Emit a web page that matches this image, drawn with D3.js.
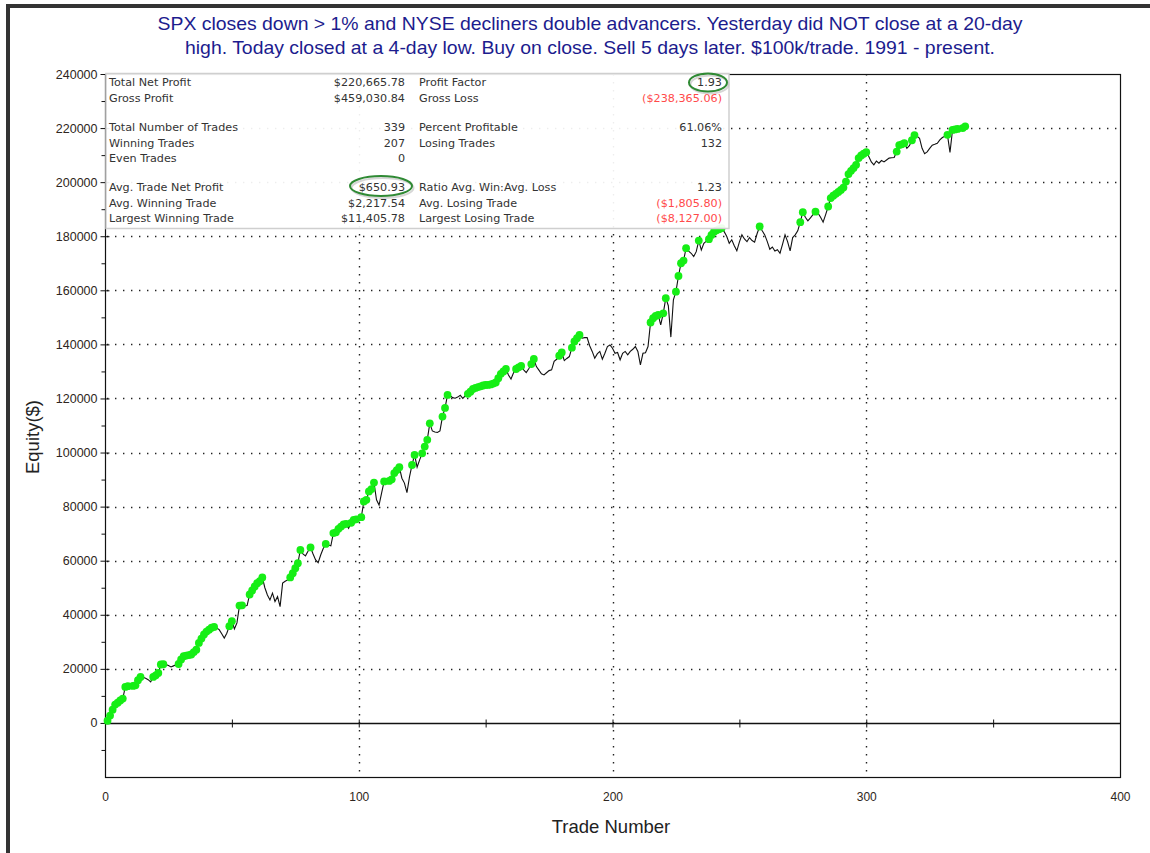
<!DOCTYPE html>
<html>
<head>
<meta charset="utf-8">
<script src="https://cdn.jsdelivr.net/npm/d3@7/dist/d3.min.js"></script>
<style>
  html, body { margin: 0; padding: 0; background: #fff; }
  svg { display: block; }
</style>
</head>
<body>
<svg id="chart" width="1150" height="853"></svg>
<script>
// ---------------- DATA ----------------
const titleLines = [
  "SPX closes down > 1% and NYSE decliners double advancers. Yesterday did NOT close at a 20-day",
  "high. Today closed at a 4-day low. Buy on close. Sell 5 days later. $100k/trade. 1991 - present."
];
const xLabel = "Trade Number";
const yLabel = "Equity($)";
const xTicks = [0, 100, 200, 300, 400];
const xMinorTicks = [0, 50, 100, 150, 200, 250, 300, 350, 400];
const yTicks = [0, 20000, 40000, 60000, 80000, 100000, 120000, 140000, 160000, 180000, 200000, 220000, 240000];
const yMinorTicks = [-10000, 10000, 30000, 50000, 70000, 90000, 110000, 130000, 150000, 170000, 190000, 210000, 230000];
const yGrid = [20000, 40000, 60000, 80000, 100000, 120000, 140000, 160000, 180000, 200000, 220000];
const xGrid = [100, 200, 300];

// equity after each trade (trade 1 .. 339)
const equity = [
  800, 2700, 4900, 6800, 7500, 8300, 9000, 13300, 13600, 13500,
  13700, 13900, 15800, 17000, 16900, 16500, 16000, 15200, 17000, 17600,
  18500, 21600, 21700, 21600, 21200, 20700, 21100, 21500, 21800, 23500,
  24700, 24900, 25100, 25300, 26200, 27100, 29600, 31200, 32700, 33800,
  34500, 35200, 35500, 35100, 34500, 33000, 31400, 33200, 35800, 37600,
  34800, 37000, 43400, 43500, 43300, 43400, 47500, 49000, 50500, 51700,
  52400, 53800, 50000, 47300, 45500, 48000, 44900, 46700, 43000, 51700,
  52400, 52900, 53800, 55400, 57200, 59100, 64000, 62500, 61800, 63500,
  64900, 62500, 60300, 59300, 62100, 64500, 66200, 65800, 65500, 70200,
  70500, 71800, 72600, 73400, 73600, 72000, 74000, 75100, 75300, 75000,
  76100, 81900, 82500, 85600, 86500, 88900, 82500, 80600, 85000, 89300,
  88700, 89500, 90100, 92400, 93500, 94600, 90500, 88700, 85200, 91000,
  95400, 99100, 94600, 97300, 99700, 102200, 104700, 110800, 108000, 107600,
  107400, 108000, 113300, 116500, 121300, 121100, 120300, 120100, 120500, 121200,
  120000, 121000, 121700, 122500, 123500, 123900, 124200, 124500, 124800, 125000,
  125000, 125200, 125500, 125900, 127500, 129100, 130000, 130900, 128700, 127200,
  129500, 130900, 131500, 132000, 130600, 129600, 131000, 132700, 134600, 131800,
  130500, 129100, 128700, 129500, 130300, 130600, 133700, 134500, 135800, 137000,
  134000, 134800, 135500, 138800, 141100, 142300, 143500, 142300, 142500, 142500,
  139500, 137400, 134900, 136500, 137400, 134500, 136700, 139200, 139800, 138600,
  136700, 137000, 134300, 136700, 137400, 136100, 137400, 138200, 139200, 137400,
  132400, 136700, 136900, 139200, 148100, 149700, 150500, 150900, 147200, 151500,
  157100, 154300, 142700, 156500, 159500, 165300, 170000, 171000, 175600, 174500,
  173700, 172500, 174300, 178400, 174900, 177400, 178200, 178900, 180500, 181700,
  182200, 182600, 183000, 181700, 180000, 177400, 178700, 176500, 174600, 177800,
  180500, 179000, 178000, 179500, 178400, 177800, 181000, 183600, 182000, 180500,
  178000, 175200, 176000, 174500, 175000, 173700, 177000, 180500, 178000, 174600,
  179500, 180500, 182000, 185200, 188900, 187000, 185700, 186800, 188000, 189100,
  188500, 187000, 185200, 188000, 191000, 194100, 195000, 195700, 196400, 197100,
  198000, 200200, 203000, 204200, 205200, 206400, 208900, 209900, 210500, 211100,
  209500, 207500, 206400, 207800, 207000, 208000, 207500, 208200, 208900, 209000,
  209100, 211300, 213700, 214000, 214400, 212500, 213500, 215500, 217400, 217000,
  216200, 212500, 210500, 211200, 212500, 213700, 214000, 214400, 215600, 216500,
  217000, 217500, 211000, 219300, 219500, 219700, 219600, 220000, 220666
];

// performance summary table
const statsLeftLabels  = ["Total Net Profit", "Gross Profit", "Total Number of Trades", "Winning Trades", "Even Trades", "Avg. Trade Net Profit", "Avg. Winning Trade", "Largest Winning Trade"];
const statsLeftValues  = ["$220,665.78", "$459,030.84", "339", "207", "0", "$650.93", "$2,217.54", "$11,405.78"];
const statsRightLabels = ["Profit Factor", "Gross Loss", "Percent Profitable", "Losing Trades", "", "Ratio Avg. Win:Avg. Loss", "Avg. Losing Trade", "Largest Losing Trade"];
const statsRightValues = ["1.93", "($238,365.06)", "61.06%", "132", "", "1.23", "($1,805.80)", "($8,127.00)"];
const statsRightNegative = [false, true, false, false, false, false, true, true];
const statsRowY = [86, 102, 131, 147, 162, 191, 207, 222];

// ---------------- CHART ----------------
const svg = d3.select("#chart");
const W = 1150, H = 853;
const plot = { left: 105, right: 1120, top: 74, bottom: 777 };

const x = d3.scaleLinear().domain([0, 400]).range([plot.left, plot.right]);
const y = d3.scaleLinear().domain([-20000, 240000]).range([plot.bottom, plot.top]);

svg.append("rect").attr("width", W).attr("height", H).attr("fill", "#fff");

// outer dark frame (top + left)
svg.append("rect").attr("x", 6).attr("y", 4).attr("width", W - 6).attr("height", 4).attr("fill", "#333");
svg.append("rect").attr("x", 6).attr("y", 4).attr("width", 4).attr("height", H - 4).attr("fill", "#333");

// title
const titleWidths = [865, 810];
svg.append("g").selectAll("text").data(titleLines).join("text")
  .attr("x", 590).attr("y", (d, i) => 30 + i * 24)
  .attr("text-anchor", "middle")
  .attr("font-family", "Liberation Sans, Arial, sans-serif")
  .attr("font-size", 18.5)
  .attr("textLength", (d, i) => titleWidths[i])
  .attr("lengthAdjust", "spacingAndGlyphs")
  .attr("fill", "#1c1c8e")
  .text(d => d);

// grid
const grid = svg.append("g").attr("stroke", "#222").attr("stroke-width", 1.4).attr("stroke-dasharray", "1.4 6.6");
grid.selectAll("line.h").data(yGrid).join("line").attr("class", "h")
  .attr("x1", plot.left + 2).attr("x2", plot.right)
  .attr("y1", d => Math.round(y(d)) + 0.5).attr("y2", d => Math.round(y(d)) + 0.5);
grid.selectAll("line.v").data(xGrid).join("line").attr("class", "v")
  .attr("y1", plot.top).attr("y2", plot.bottom)
  .attr("x1", d => Math.round(x(d)) + 0.5).attr("x2", d => Math.round(x(d)) + 0.5);

// frame
svg.append("rect").attr("x", plot.left + 0.5).attr("y", plot.top + 0.5)
  .attr("width", plot.right - plot.left).attr("height", plot.bottom - plot.top)
  .attr("fill", "none").attr("stroke", "#111").attr("stroke-width", 1.2);

// y axis
const yAxis = d3.axisLeft(y).tickValues(yTicks).tickSize(5).tickPadding(3).tickFormat(d3.format("d"));
const gy = svg.append("g").attr("transform", `translate(${plot.left + 0.5},0)`).call(yAxis);
gy.select(".domain").remove();
gy.selectAll(".tick line").attr("x1", 4).attr("x2", -5).attr("stroke", "#111");
gy.selectAll(".tick text").attr("font-family", "Liberation Sans, Arial, sans-serif").attr("font-size", 12.5).attr("fill", "#2e2620");
const gyMinor = d3.axisLeft(y).tickValues(yMinorTicks).tickSize(4).tickFormat("");
const gym = svg.append("g").attr("transform", `translate(${plot.left + 0.5},0)`).call(gyMinor);
gym.select(".domain").remove();
gym.selectAll(".tick line").attr("stroke", "#111");

// zero line with x ticks
svg.append("line").attr("x1", plot.left).attr("x2", plot.right)
  .attr("y1", Math.round(y(0)) + 0.5).attr("y2", Math.round(y(0)) + 0.5)
  .attr("stroke", "#111").attr("stroke-width", 1.4);
const xZeroAxis = d3.axisBottom(x).tickValues(xMinorTicks).tickSize(4).tickFormat("");
const gxz = svg.append("g").attr("transform", `translate(0,${Math.round(y(0)) + 0.5})`).call(xZeroAxis);
gxz.select(".domain").remove();
gxz.selectAll(".tick line").attr("y1", -4).attr("y2", 4).attr("stroke", "#111");

// x labels at bottom
const xAxis = d3.axisBottom(x).tickValues(xTicks).tickSize(0).tickPadding(15).tickFormat(d3.format("d"));
const gx = svg.append("g").attr("transform", `translate(0,${plot.bottom})`).call(xAxis);
gx.select(".domain").remove();
gx.selectAll(".tick text").attr("font-family", "Liberation Sans, Arial, sans-serif").attr("font-size", 12).attr("fill", "#2e2620");

// axis titles
svg.append("text").attr("x", 611).attr("y", 833).attr("text-anchor", "middle")
  .attr("font-family", "Liberation Sans, Arial, sans-serif").attr("font-size", 18.5).attr("fill", "#222")
  .text(xLabel);
svg.append("text").attr("transform", "translate(39,437) rotate(-90)").attr("text-anchor", "middle")
  .attr("font-family", "Liberation Sans, Arial, sans-serif").attr("font-size", 18.5).attr("fill", "#222")
  .text(yLabel);

// equity curve
const pts = equity.map((v, i) => ({ trade: i + 1, value: v }));
const line = d3.line().x(d => x(d.trade)).y(d => y(d.value));
svg.append("path").datum(pts).attr("d", line)
  .attr("fill", "none").attr("stroke", "#111").attr("stroke-width", 1.1);

// new equity highs
let runMax = -Infinity;
const highs = pts.filter(d => { if (d.value >= runMax) { runMax = d.value; return true; } return false; });
svg.append("g").selectAll("circle").data(highs).join("circle")
  .attr("cx", d => x(d.trade)).attr("cy", d => y(d.value)).attr("r", 3.9)
  .attr("fill", "#16ee16");

// stats box
const box = svg.append("g");
box.append("rect").attr("x", plot.left + 1).attr("y", 73.5).attr("width", 623).attr("height", 155)
  .attr("fill", "#fff").attr("fill-opacity", 0.92).attr("stroke", "#cfcfcf").attr("stroke-width", 1.5);
const sFont = "Tahoma, DejaVu Sans, Verdana, sans-serif";
const sSize = 11.2;
box.selectAll("text.ll").data(statsLeftLabels).join("text").attr("class", "ll")
  .attr("x", 109).attr("y", (d, i) => statsRowY[i])
  .attr("font-family", sFont).attr("font-size", sSize).attr("fill", "#333").text(d => d);
box.selectAll("text.lv").data(statsLeftValues).join("text").attr("class", "lv")
  .attr("x", 405).attr("y", (d, i) => statsRowY[i]).attr("text-anchor", "end")
  .attr("font-family", sFont).attr("font-size", sSize).attr("fill", "#333").text(d => d);
box.selectAll("text.rl").data(statsRightLabels).join("text").attr("class", "rl")
  .attr("x", 419).attr("y", (d, i) => statsRowY[i])
  .attr("font-family", sFont).attr("font-size", sSize).attr("fill", "#333").text(d => d);
box.selectAll("text.rv").data(statsRightValues).join("text").attr("class", "rv")
  .attr("x", 722).attr("y", (d, i) => statsRowY[i]).attr("text-anchor", "end")
  .attr("font-family", sFont).attr("font-size", sSize)
  .attr("fill", (d, i) => statsRightNegative[i] ? "#ff4a4a" : "#333").text(d => d);

// highlight ellipses
const ellipses = [{ cx: 381, cy: 186, rx: 31, ry: 10 }, { cx: 708, cy: 82.5, rx: 19, ry: 9 }];
box.selectAll("ellipse.sh").data(ellipses).join("ellipse").attr("class", "sh")
  .attr("cx", d => d.cx + 1.5).attr("cy", d => d.cy + 2).attr("rx", d => d.rx).attr("ry", d => d.ry)
  .attr("fill", "none").attr("stroke", "#bbb").attr("stroke-width", 2).attr("opacity", 0.6);
box.selectAll("ellipse.hl").data(ellipses).join("ellipse").attr("class", "hl")
  .attr("cx", d => d.cx).attr("cy", d => d.cy).attr("rx", d => d.rx).attr("ry", d => d.ry)
  .attr("fill", "none").attr("stroke", "#2f8a34").attr("stroke-width", 2);
</script>
</body>
</html>
